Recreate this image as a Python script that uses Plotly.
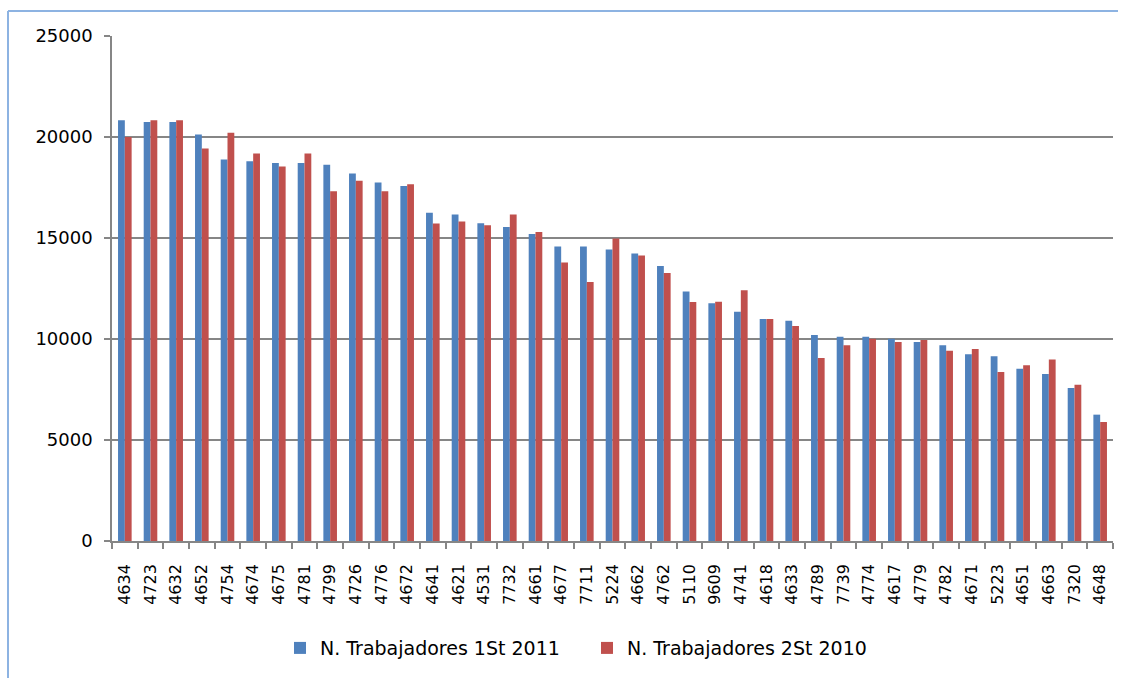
import plotly.graph_objects as go

categories = ["4634", "4723", "4632", "4652", "4754", "4674", "4675", "4781", "4799", "4726",
              "4776", "4672", "4641", "4621", "4531", "7732", "4661", "4677", "7711", "5224",
              "4662", "4762", "5110", "9609", "4741", "4618", "4633", "4789", "7739", "4774",
              "4617", "4779", "4782", "4671", "5223", "4651", "4663", "7320", "4648"]

series_2011_name = "N. Trabajadores 1St 2011"
series_2011 = [20830, 20745, 20745, 20120, 18880, 18800, 18715, 18715, 18630, 18190,
               17745, 17575, 16250, 16160, 15730, 15545, 15200, 14575, 14575, 14425,
               14230, 13615, 12350, 11775, 11350, 10990, 10905, 10200, 10115, 10115,
               10015, 9850, 9685, 9240, 9140, 8530, 8265, 7575, 6255]

series_2010_name = "N. Trabajadores 2St 2010"
series_2010 = [20000, 20830, 20830, 19425, 20215, 19180, 18535, 19180, 17310, 17840,
               17310, 17660, 15715, 15815, 15630, 16160, 15300, 13785, 12825, 14970,
               14130, 13270, 11835, 11850, 12415, 10990, 10645, 9060, 9685, 10015,
               9850, 9950, 9420, 9505, 8365, 8695, 8990, 7740, 5890]

y_ticks = [0, 5000, 10000, 15000, 20000, 25000]

grid = "#868686"
font_family = "DejaVu Sans"

fig = go.Figure()
fig.add_trace(go.Bar(x=categories, y=series_2011, name=series_2011_name,
                     marker=dict(color="#4F81BD", line=dict(width=0))))
fig.add_trace(go.Bar(x=categories, y=series_2010, name=series_2010_name,
                     marker=dict(color="#C0504D", line=dict(width=0))))

fig.update_layout(
    width=1128, height=678,
    margin=dict(l=112, r=15, t=36, b=137, autoexpand=False),
    paper_bgcolor="white", plot_bgcolor="white",
    barmode="group", bargap=0.47, bargroupgap=0,
    font=dict(family=font_family, color="#000000"),
    showlegend=True,
    legend=dict(orientation="h", x=0.4745, xanchor="center", y=-0.212, yanchor="middle",
                font=dict(size=19, family=font_family), bgcolor="rgba(0,0,0,0)",
                itemsizing="constant", itemwidth=30, entrywidth=262),
    xaxis=dict(type="category", showline=True, linecolor=grid, linewidth=1.5,
               ticks="outside", tickson="boundaries", ticklen=6, tickcolor=grid, tickwidth=1.5,
               tickangle=-90, tickfont=dict(size=16, family=font_family),
               showgrid=False, ticklabelstandoff=15),
    yaxis=dict(range=[0, 25000], tickvals=y_ticks, ticktext=[str(v) for v in y_ticks],
               showline=True, linecolor=grid, linewidth=1.5,
               showgrid=True, gridcolor=grid, gridwidth=1.5, zeroline=False,
               ticks="outside", ticklen=6, tickcolor=grid, tickwidth=1.5,
               tickfont=dict(size=18, family=font_family), ticklabelstandoff=8),
    shapes=[
        dict(type="line", xref="paper", yref="paper",
             x0=(8 - 112) / 1001, x1=(1118 - 112) / 1001,
             y0=(541 - 11) / 505, y1=(541 - 11) / 505,
             line=dict(color="#8DB3E2", width=2)),
        dict(type="line", xref="paper", yref="paper",
             x0=(8 - 112) / 1001, x1=(8 - 112) / 1001,
             y0=(541 - 11) / 505, y1=(541 - 680) / 505,
             line=dict(color="#8DB3E2", width=2)),
    ],
)

fig.write_html("out.html", config={"displayModeBar": False},
               post_script="document.body.style.margin='0';")
